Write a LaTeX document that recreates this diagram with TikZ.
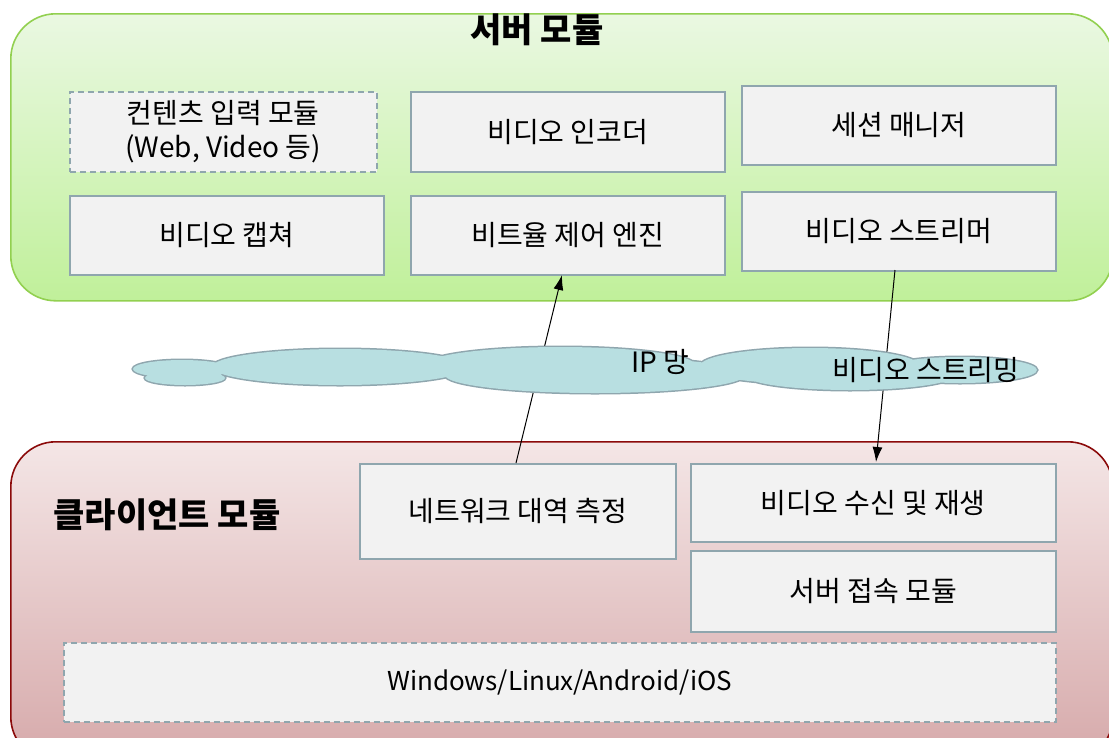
\documentclass[tikz,border=0pt]{standalone}
\usepackage{fontspec}
\setmainfont{Noto Sans CJK KR}
\usetikzlibrary{arrows.meta}
\definecolor{boxfill}{HTML}{F2F2F2}
\definecolor{boxline}{HTML}{8FA6AE}
\definecolor{srvtop}{HTML}{EAF8E2}
\definecolor{srvbot}{HTML}{C0F09A}
\definecolor{srvline}{HTML}{92D050}
\definecolor{clitop}{HTML}{F4E6E6}
\definecolor{clibot}{HTML}{D6A9AA}
\definecolor{cliline}{HTML}{8B0A0A}
\definecolor{cloudfill}{HTML}{B8DFE1}
\begin{document}
\begin{tikzpicture}[x=1pt,y=-1pt,
  box/.style={draw=boxline,fill=boxfill,line width=1.6pt,anchor=north west,inner sep=0pt,align=center,font=\fontsize{28}{34}\selectfont},
  dbox/.style={box,dashed,dash pattern=on 6pt off 4pt},
  arr/.style={line width=1pt,-{Latex[length=15pt,width=10pt]}},
  title/.style={font=\fontsize{34}{40}\selectfont\bfseries}]
\useasboundingbox (0,0) rectangle (1109,737);
% module containers
\node[draw=srvline,line width=1.6pt,rounded corners=45pt,top color=srvtop,bottom color=srvbot,
  minimum width=1102pt,minimum height=287pt,anchor=north west,inner sep=0pt] (srv) at (10,13) {};
\node[draw=cliline,line width=1.6pt,rounded corners=45pt,top color=clitop,bottom color=clibot,
  minimum width=1102pt,minimum height=320pt,anchor=north west,inner sep=0pt] (cli) at (10,441) {};
\node[title] (srvt) at (537,30) {서버 모듈};
\node[title] (clit) at (167,515) {클라이언트 모듈};
% server boxes
\node[dbox,minimum width=307pt,minimum height=80pt] (cin) at (69,91) {컨텐츠 입력 모듈\\(Web, Video 등)};
\node[box,minimum width=314pt,minimum height=80pt] (enc) at (410,91) {비디오 인코더};
\node[box,minimum width=314pt,minimum height=79pt] (ses) at (741,85) {세션 매니저};
\node[box,minimum width=314pt,minimum height=79pt] (cap) at (69,195) {비디오 캡쳐};
\node[box,minimum width=314pt,minimum height=79pt] (bit) at (410,195) {비트율 제어 엔진};
\node[box,minimum width=314pt,minimum height=79pt] (str) at (741,191) {비디오 스트리머};
% client boxes
\node[box,minimum width=316pt,minimum height=95pt] (net) at (359,463) {네트워크 대역 측정};
\node[box,minimum width=365pt,minimum height=78pt] (rcv) at (690,463) {비디오 수신 및 재생};
\node[box,minimum width=365pt,minimum height=81pt] (con) at (690,550) {서버 접속 모듈};
\node[dbox,minimum width=992pt,minimum height=79pt,font=\fontsize{26}{30}\selectfont] (os) at (63,642) {Windows/Linux/Android/iOS};
% arrows
\coordinate (a1) at (516,463);
\coordinate (a2) at (562,275);
\coordinate (b1) at (895,270);
\coordinate (b2) at (876,462);
\draw[arr] (a1) -- (a2);
\draw[arr] (b1) -- (b2);
% cloud
\def\lobes{%
  (182,369) ellipse (49pt and 9pt)
  (185,378) ellipse (40pt and 7pt)
  (340,367) ellipse (128pt and 18pt)
  (560,365) ellipse (135pt and 18pt)
  (595,375) ellipse (150pt and 18pt)
  (810,366) ellipse (110pt and 18pt)
  (850,375) ellipse (105pt and 15pt)
  (960,370) ellipse (77pt and 13pt)}
\draw[boxline,line width=3pt] \lobes;
\fill[cloudfill] \lobes;
\node[font=\fontsize{28}{32}\selectfont] (ip) at (660,362) {IP 망};
\node[font=\fontsize{28}{32}\selectfont] (vs) at (926,370) {비디오 스트리밍};
\end{tikzpicture}
\end{document}
